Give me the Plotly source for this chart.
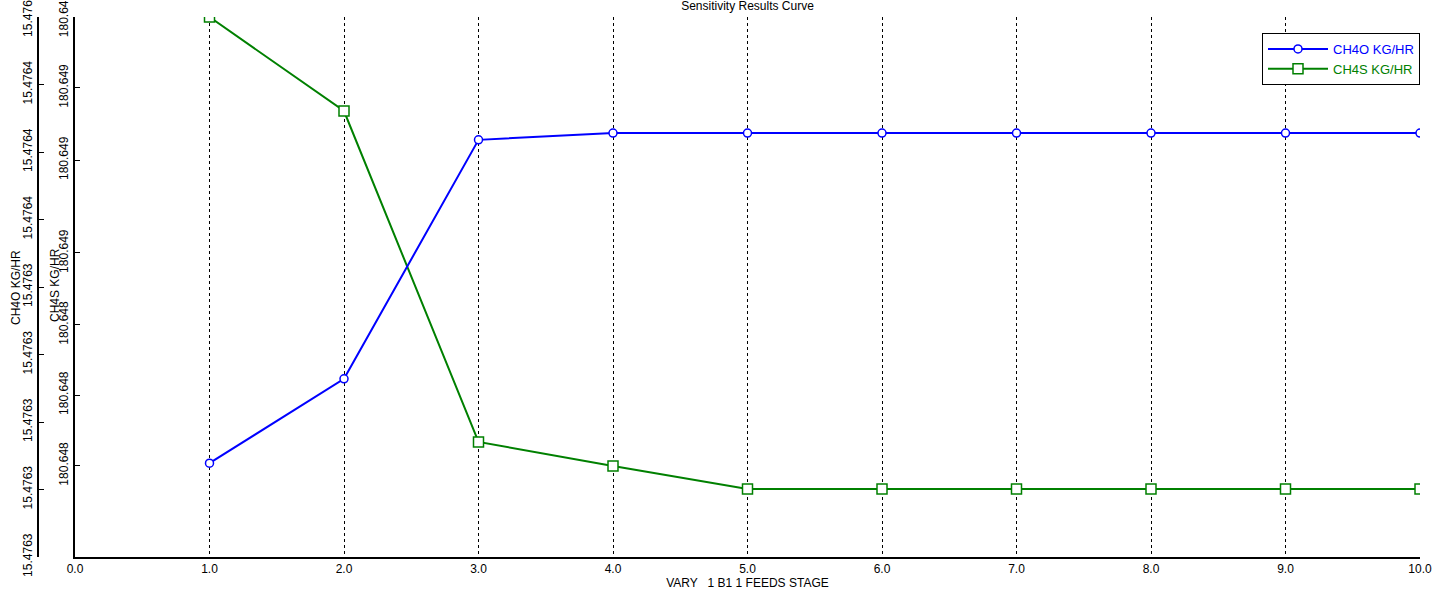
import plotly.graph_objects as go

stage = [1, 2, 3, 4, 5, 6, 7, 8, 9, 10]
ch4o = [15.4763139, 15.4763264, 15.4763618, 15.4763628, 15.4763628,
        15.4763628, 15.4763628, 15.4763628, 15.4763628, 15.4763628]
ch4s = [180.6490000, 180.6488259, 180.6482130, 180.6481685, 180.6481259,
        180.6481259, 180.6481259, 180.6481259, 180.6481259, 180.6481259]

x_ticks = [0, 1, 2, 3, 4, 5, 6, 7, 8, 9, 10]
x_ticktext = ["0.0", "1.0", "2.0", "3.0", "4.0", "5.0", "6.0", "7.0", "8.0", "9.0", "10.0"]

ch4o_ticks = [15.47630, 15.47631, 15.47632, 15.47633, 15.47634,
              15.47635, 15.47636, 15.47637, 15.47638]
ch4o_ticktext = ["15.4763", "15.4763", "15.4763", "15.4763", "15.4763",
                 "15.4764", "15.4764", "15.4764", "15.4764"]

ch4s_ticks = [180.648169, 180.648300, 180.648430, 180.648563,
              180.648735, 180.648869, 180.6489995]
ch4s_ticktext = ["180.648", "180.648", "180.648", "180.649",
                 "180.649", "180.649", "180.649"]

W, H = 1434, 594
ML, MR, MT, MB = 10, 14, 17, 37
plot_w = W - ML - MR
x_dom_start = (75 - ML) / plot_w
y2_pos = (38 - ML) / plot_w

FONT = "Liberation Sans"
BLUE = "#0000FF"
GREEN = "#008000"

fig = go.Figure()
fig.add_trace(go.Scatter(
    x=stage, y=ch4o, yaxis="y2", mode="lines+markers",
    name='<span style="color:#0000FF">CH4O KG/HR</span>',
    line=dict(color=BLUE, width=2),
    marker=dict(symbol="circle", size=8, color="white",
                line=dict(color=BLUE, width=1.5)),
))
fig.add_trace(go.Scatter(
    x=stage, y=ch4s, yaxis="y", mode="lines+markers",
    name='<span style="color:#008000">CH4S KG/HR</span>',
    line=dict(color=GREEN, width=2),
    marker=dict(symbol="square", size=10, color="white",
                line=dict(color=GREEN, width=1.5)),
))

fig.update_layout(
    width=W, height=H,
    margin=dict(l=ML, r=MR, t=MT, b=MB, autoexpand=False),
    paper_bgcolor="white", plot_bgcolor="white",
    font=dict(family=FONT, size=12, color="black"),
    title=dict(text="Sensitivity Results Curve", x=(75 + 1420) / 2 / W, xanchor="center",
               y=1 - 6 / H, yanchor="middle", yref="container",
               font=dict(family=FONT, size=12, color="black")),
    showlegend=True,
    legend=dict(x=1, xanchor="right", y=(557 - 33) / 540, yanchor="top",
                bgcolor="white", bordercolor="black", borderwidth=1,
                font=dict(family=FONT, size=13), itemwidth=60,
                tracegroupgap=0),
    xaxis=dict(domain=[x_dom_start, 1], range=[0, 10], automargin=False,
               tickvals=x_ticks, ticktext=x_ticktext,
               showline=True, linecolor="black", linewidth=1.5,
               ticks="", showgrid=True, gridcolor="black", gridwidth=1,
               griddash="3px,3px", zeroline=False, ticklabeloverflow="allow",
               tickfont=dict(family=FONT, size=12),
               title=dict(text="VARY   1 B1 1 FEEDS STAGE", standoff=0,
                          font=dict(family=FONT, size=12))),
    yaxis=dict(range=[180.648, 180.649], tickvals=ch4s_ticks, ticktext=ch4s_ticktext,
               automargin=False, ticklabeloverflow="allow",
               tickangle=-90, showline=True, linecolor="black", linewidth=1.5,
               ticks="inside", ticklen=5, tickcolor="black",
               showgrid=False, zeroline=False,
               tickfont=dict(family=FONT, size=12)),
    yaxis2=dict(range=[15.47630, 15.47638], tickvals=ch4o_ticks, ticktext=ch4o_ticktext,
                automargin=False, ticklabeloverflow="allow",
                overlaying="y", anchor="free", position=y2_pos, side="left",
                tickangle=-90, showline=True, linecolor="black", linewidth=1.5,
                ticks="inside", ticklen=5, tickcolor="black",
                showgrid=False, zeroline=False,
                tickfont=dict(family=FONT, size=12)),
    annotations=[
        dict(text="CH4O KG/HR", textangle=-90, xref="paper", yref="paper",
             x=(16 - ML) / plot_w, y=(557 - 288) / 540, xanchor="center", yanchor="middle",
             showarrow=False, font=dict(family=FONT, size=12)),
        dict(text="CH4S KG/HR", textangle=-90, xref="paper", yref="paper",
             x=(55 - ML) / plot_w, y=(557 - 285) / 540, xanchor="center", yanchor="middle",
             showarrow=False, font=dict(family=FONT, size=12)),
    ],
)

fig.write_html("out.html", config={"displayModeBar": False},
               post_script="document.body.style.margin='0px';")
